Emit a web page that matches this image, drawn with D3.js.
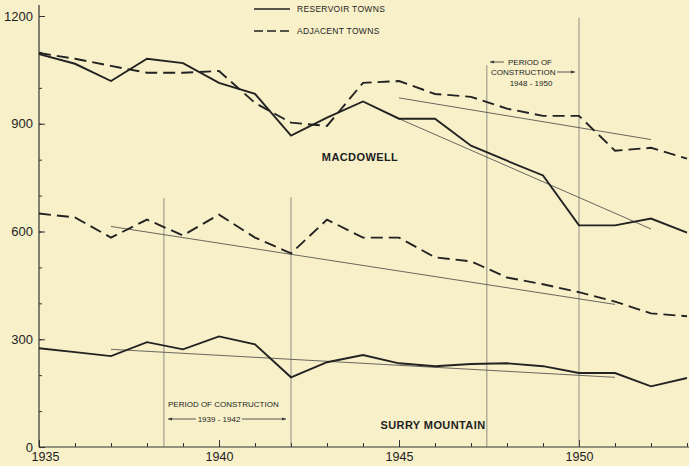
<!DOCTYPE html>
<html>
<head>
<meta charset="utf-8">
<script src="https://cdn.jsdelivr.net/npm/d3@7"></script>
<style>
  html, body { margin: 0; padding: 0; background: #f7f0c9; }
  svg { display: block; }
  text { font-family: "Liberation Sans", "DejaVu Sans", sans-serif; fill: #1e1e1e; }
</style>
</head>
<body>
<div id="chart"></div>
<script>
// years on the x axis
const years = d3.range(1935, 1954);

// MacDowell towns
const macReservoir = [1094, 1067, 1019, 1081, 1069, 1014, 983, 867, 917, 962, 914, 914, 839, 797, 756, 617, 617, 636, 597];
const macAdjacent  = [1097, 1081, 1061, 1042, 1042, 1047, 958, 903, 894, 1014, 1019, 983, 975, 942, 922, 922, 825, 833, 803];

// Surry Mountain towns
const surryAdjacent  = [650, 639, 583, 633, 589, 647, 583, 539, 633, 583, 583, 528, 517, 472, 453, 431, 405, 372, 364];
const surryReservoir = [275, 264, 253, 292, 272, 308, 286, 194, 236, 256, 233, 225, 231, 233, 225, 206, 206, 169, 192];

// trend lines: [x0, y0, x1, y1]
const trends = [
  [1945, 972, 1952, 856],
  [1945, 914, 1952, 607],
  [1937, 614, 1951, 397],
  [1937, 272, 1951, 194]
];

// construction periods (x position, top value)
const constructionLines = [
  { year: 1938.47, top: 693 },
  { year: 1942, top: 695 },
  { year: 1947.44, top: 1063 },
  { year: 1950, top: 1195 }
];

const yMajor = [0, 300, 600, 900, 1200];
const yMinor = d3.range(0, 1201, 100);
const xLabels = [1935, 1940, 1945, 1950];

const width = 689, height = 466;
const x = d3.scaleLinear().domain([1935, 1953]).range([39, 687]);
const y = d3.scaleLinear().domain([0, 1200]).range([447, 16]);

const svg = d3.select("#chart").append("svg")
  .attr("width", width).attr("height", height);

svg.append("rect").attr("width", width).attr("height", height).attr("fill", "#f7f0c9");

// y axis
svg.append("g").attr("transform", `translate(${x(1935)},0)`)
  .call(d3.axisLeft(y).tickValues(yMinor).tickSize(-3).tickFormat(""));
const yMaj = svg.append("g").attr("transform", `translate(${x(1935)},0)`)
  .call(d3.axisLeft(y).tickValues(yMajor).tickSize(-6).tickPadding(6).tickFormat(d3.format("d")));
yMaj.selectAll("text").style("font-size", "13px");
svg.selectAll(".domain").remove();
svg.append("line").attr("x1", x(1935)).attr("x2", x(1935)).attr("y1", 5).attr("y2", y(0))
  .attr("stroke", "#333").attr("stroke-width", 1.2);

// x axis
const xAxisG = svg.append("g").attr("transform", `translate(0,${y(0)})`)
  .call(d3.axisBottom(x).tickValues(years).tickSizeInner(-4).tickSizeOuter(0).tickFormat(""));
xAxisG.select(".domain").remove();
const xMaj = svg.append("g").attr("transform", `translate(0,${y(0)})`)
  .call(d3.axisBottom(x).tickValues(xLabels).tickSizeInner(-7).tickSizeOuter(0).tickPadding(5).tickFormat(d3.format("d")));
xMaj.select(".domain").remove();
xMaj.selectAll("text").style("font-size", "12.5px")
  .attr("dx", d => d === 1935 ? 6 : 0);
svg.append("line").attr("x1", x(1935)).attr("x2", width).attr("y1", y(0)).attr("y2", y(0))
  .attr("stroke", "#333").attr("stroke-width", 1.2);
svg.selectAll(".tick line").attr("stroke", "#333").attr("stroke-width", 1);

// construction lines
svg.selectAll(".cline").data(constructionLines).enter().append("line")
  .attr("x1", d => x(d.year)).attr("x2", d => x(d.year))
  .attr("y1", d => y(d.top)).attr("y2", y(0))
  .attr("stroke", "#666").attr("stroke-width", 0.7);

// trend lines
svg.selectAll(".trend").data(trends).enter().append("line")
  .attr("x1", d => x(d[0])).attr("y1", d => y(d[1]))
  .attr("x2", d => x(d[2])).attr("y2", d => y(d[3]))
  .attr("stroke", "#444").attr("stroke-width", 0.8);

// series
const line = d3.line().x((d, i) => x(years[i])).y(d => y(d));
const series = [
  { values: macAdjacent, dashed: true },
  { values: surryAdjacent, dashed: true },
  { values: macReservoir, dashed: false },
  { values: surryReservoir, dashed: false }
];
svg.selectAll(".series").data(series).enter().append("path")
  .attr("d", d => line(d.values))
  .attr("fill", "none")
  .attr("stroke", "#222")
  .attr("stroke-width", 1.9)
  .attr("stroke-dasharray", d => d.dashed ? "12,6" : null)
  .attr("stroke-linejoin", "miter");

// legend
const legend = [
  { label: "RESERVOIR TOWNS", dashed: false, yy: 9 },
  { label: "ADJACENT TOWNS", dashed: true, yy: 31 }
];
const lg = svg.selectAll(".legend").data(legend).enter().append("g");
lg.append("line").attr("x1", 254).attr("x2", 290).attr("y1", d => d.yy).attr("y2", d => d.yy)
  .attr("stroke", "#222").attr("stroke-width", 1.3)
  .attr("stroke-dasharray", d => d.dashed ? "9,4" : null);
lg.append("text").attr("x", 297).attr("y", d => d.yy).attr("dy", "0.35em")
  .style("font-size", "8.5px").style("letter-spacing", "0.3px").text(d => d.label);

// group labels
svg.append("text").attr("x", 360).attr("y", 157).attr("dy", "0.35em").attr("text-anchor", "middle")
  .style("font-size", "11px").style("font-weight", "bold").style("letter-spacing", "0.4px").text("MACDOWELL");
svg.append("text").attr("x", 433).attr("y", 425).attr("dy", "0.35em").attr("text-anchor", "middle")
  .style("font-size", "11px").style("font-weight", "bold").style("letter-spacing", "0.4px").text("SURRY MOUNTAIN");

// construction annotations
function note(tx, ty, str, anchor) {
  svg.append("text").attr("x", tx).attr("y", ty).attr("dy", "0.35em")
    .attr("text-anchor", anchor || "start")
    .style("font-size", "8px").text(str);
}
function arrow(x1, x2, yy) {
  svg.append("line").attr("x1", x1).attr("x2", x2).attr("y1", yy).attr("y2", yy)
    .attr("stroke", "#333").attr("stroke-width", 0.8);
  const dir = x2 > x1 ? -1 : 1;
  svg.append("path")
    .attr("d", `M${x2},${yy} L${x2 + dir * 4},${yy - 1.5} L${x2 + dir * 4},${yy + 1.5} Z`)
    .attr("fill", "#333");
}
note(168, 404, "PERIOD OF CONSTRUCTION");
arrow(196, 168, 419);
note(219, 419, "1939 - 1942", "middle");
arrow(242, 286, 419);

arrow(504, 490, 62);
note(508, 62, "PERIOD OF");
note(491, 72, "CONSTRUCTION");
arrow(557, 575, 72);
note(531, 83, "1948 - 1950", "middle");
</script>
</body>
</html>
